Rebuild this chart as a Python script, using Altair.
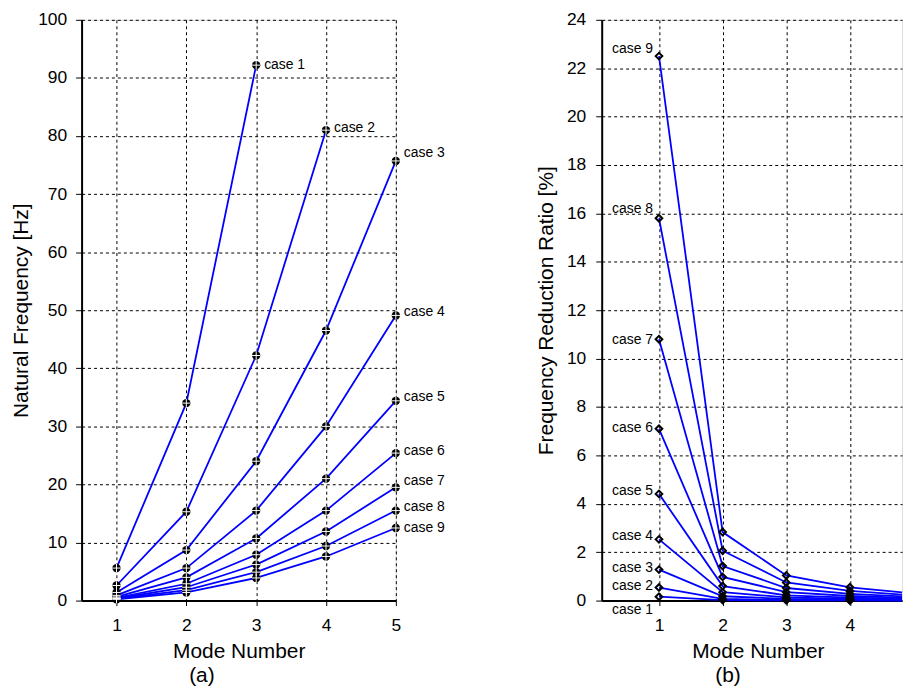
import altair as alt
import pandas as pd

FONT = "Liberation Sans"
BLUE = "#0000ff"

modes = [1, 2, 3, 4, 5]
cases = [1, 2, 3, 4, 5, 6, 7, 8, 9]

# (a) Natural frequency [Hz] per case, modes 1..5 (case 1 has 3 modes)
freq = {
    1: [5.6, 34.0, 92.2],
    2: [2.6, 15.3, 42.2, 81.0],
    3: [1.4, 8.7, 24.0, 46.5, 75.7],
    4: [0.9, 5.6, 15.5, 30.0, 49.1],
    5: [0.63, 4.0, 10.7, 21.0, 34.4],
    6: [0.46, 2.9, 7.9, 15.5, 25.4],
    7: [0.36, 2.3, 6.2, 11.9, 19.5],
    8: [0.29, 1.8, 4.9, 9.4, 15.5],
    9: [0.23, 1.4, 3.9, 7.6, 12.5],
}

# (b) Frequency reduction ratio [%] per case, modes 1..5
ratio = {
    1: [0.16, 0.02, 0.01, 0.005, 0.0],
    2: [0.54, 0.07, 0.03, 0.02, 0.01],
    3: [1.28, 0.18, 0.07, 0.04, 0.03],
    4: [2.53, 0.35, 0.13, 0.07, 0.05],
    5: [4.41, 0.60, 0.22, 0.12, 0.08],
    6: [7.10, 0.98, 0.35, 0.19, 0.12],
    7: [10.8, 1.43, 0.52, 0.28, 0.17],
    8: [15.8, 2.06, 0.75, 0.40, 0.25],
    9: [22.5, 2.83, 1.04, 0.55, 0.34],
}

# label nudges (pixels) for the case annotations
left_dy = {1: 0, 2: -2, 3: -8, 4: -3, 5: -4, 6: -2, 7: -6, 8: -4, 9: 0}
right_dy = {1: 13, 2: -2, 3: -2, 4: -3, 5: -3, 6: -1, 7: 1, 8: -9, 9: -7}

rows_a = []
for c in cases:
    for m, v in zip(modes, freq[c]):
        rows_a.append({"case": c, "mode": m, "value": v})
df_a = pd.DataFrame(rows_a)
lab_a = pd.DataFrame([
    {"case": c, "mode": len(freq[c]), "value": freq[c][-1], "text": f"case {c}"}
    for c in cases
])

rows_b = []
for c in cases:
    for m, v in zip(modes, ratio[c]):
        rows_b.append({"case": c, "mode": m, "value": v})
df_b = pd.DataFrame(rows_b)
lab_b = pd.DataFrame([
    {"case": c, "mode": 1, "value": ratio[c][0], "text": f"case {c}"} for c in cases
])

LFS = 17.5   # tick label size
TFS = 21     # axis title size


def xaxis(vals, **kw):
    return alt.Axis(values=vals, grid=True, gridDash=[3, 3], gridColor="#000000",
                    gridWidth=1, domainColor="#000000", domainWidth=2,
                    tickColor="#000000", tickSize=5, tickWidth=1,
                    labelFontSize=LFS, labelPadding=11, labelFont=FONT,
                    labelColor="#000000", title="Mode Number", titleFontSize=TFS,
                    titleFont=FONT, titleFontWeight="normal", titleColor="#000000",
                    titlePadding=7, labelFlush=False, **kw)


def yaxis(vals, title, lp, tp):
    return alt.Axis(values=vals, grid=True, gridDash=[3, 3], gridColor="#000000",
                    gridWidth=1, domainColor="#000000", domainWidth=2,
                    tickColor="#000000", tickSize=6, tickWidth=1,
                    labelFontSize=LFS, labelPadding=lp, labelFont=FONT,
                    labelColor="#000000", title=title, titleFontSize=TFS,
                    titleFont=FONT, titleFontWeight="normal", titleColor="#000000",
                    titlePadding=tp, labelFlush=False)


H = 584

# ---------- panel (a) ----------
xa = alt.X("mode:Q", scale=alt.Scale(domain=[0.5, 5], nice=False, zero=False),
           axis=xaxis(modes))
ya = alt.Y("value:Q", scale=alt.Scale(domain=[0, 100], nice=False),
           axis=yaxis(list(range(0, 101, 10)), "Natural Frequency [Hz]", 9, 6))

base_a = alt.Chart(df_a)
line_a = base_a.mark_line(color=BLUE, strokeWidth=1.8).encode(x=xa, y=ya, detail="case:N")
pt_a = base_a.mark_point(shape="circle", filled=True, color="#000000", size=70, opacity=1).encode(
    x=xa, y=ya)
cross_a = base_a.mark_point(shape="M-1,0H1M0,-1V1", filled=False, stroke="#ffffff",
                            strokeWidth=1, size=70, opacity=1).encode(x=xa, y=ya)
txt_a = [
    alt.Chart(lab_a).transform_filter(alt.datum.case == c).mark_text(
        align="left", baseline="middle", dx=8, dy=left_dy[c], fontSize=14,
        font=FONT, color="#000000").encode(x=xa, y=ya, text="text:N")
    for c in cases
]

panel_a = alt.layer(line_a, pt_a, cross_a, *txt_a).properties(
    width=316, height=H,
    title=alt.TitleParams("(a)", orient="bottom", anchor="middle", frame="group",
                          dx=-37, fontSize=TFS, font=FONT, fontWeight="normal",
                          color="#000000", offset=3))

# ---------- panel (b) ----------
WB = 302
xb = alt.X("mode:Q", scale=alt.Scale(domain=[0.1, 0.1 + WB / 64], nice=False, zero=False,
                                     clamp=True),
           axis=xaxis([1, 2, 3, 4], titleX=157))
yb = alt.Y("value:Q", scale=alt.Scale(domain=[0, 24], nice=False),
           axis=yaxis(list(range(0, 25, 2)), "Frequency Reduction Ratio [%]", 10, 10))

base_b = alt.Chart(df_b)
line_b = base_b.mark_line(color=BLUE, strokeWidth=1.8).encode(
    x=xb, y=yb, detail="case:N")
pt_b = base_b.transform_filter(alt.datum.mode <= 4).mark_point(
    shape="diamond", filled=False, stroke="#000000", strokeWidth=2,
    size=45, opacity=1).encode(x=xb, y=yb)
txt_b = [
    alt.Chart(lab_b).transform_filter(alt.datum.case == c).mark_text(
        align="right", baseline="middle", dx=-6, dy=right_dy[c], fontSize=14,
        font=FONT, color="#000000").encode(x=xb, y=yb, text="text:N")
    for c in cases
]

panel_b = alt.layer(line_b, pt_b, *txt_b).properties(
    width=WB, height=H,
    title=alt.TitleParams("(b)", orient="bottom", anchor="middle", frame="group",
                          dx=-24, fontSize=TFS, font=FONT, fontWeight="normal",
                          color="#000000", offset=3))

chart = alt.hconcat(panel_a, panel_b, spacing=90).properties(
    padding={"left": 2, "top": 0, "right": 0, "bottom": 0}
).configure_view(stroke="transparent").configure(font=FONT, background="#ffffff")

chart.save("out.html", embed_options={"renderer": "svg", "actions": False})
